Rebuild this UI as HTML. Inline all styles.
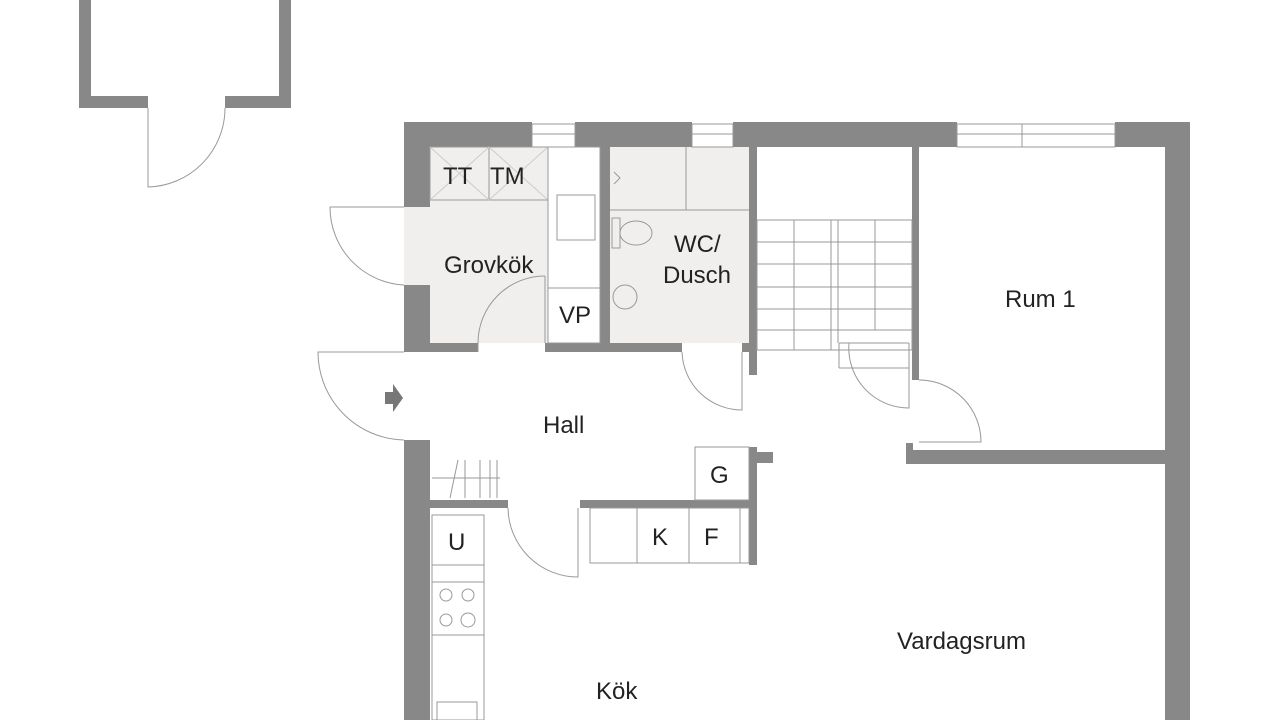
<!DOCTYPE html>
<html><head><meta charset="utf-8"><style>
html,body{margin:0;padding:0;background:#fff;width:1280px;height:720px;overflow:hidden}
svg{display:block}
text{font-family:"Liberation Sans",sans-serif;fill:#222;font-size:24px}
</style></head><body>
<svg width="1280" height="720" viewBox="0 0 1280 720">
<g fill="#f0efed">
<rect x="430" y="147" width="118" height="196"/>
<rect x="404" y="207" width="26" height="78"/>
<rect x="610" y="147" width="139" height="196"/>
</g>
<g fill="#888">
<rect x="79" y="0" width="12" height="108"/>
<rect x="279" y="0" width="12" height="108"/>
<rect x="79" y="96" width="69" height="12"/>
<rect x="225" y="96" width="66" height="12"/>
<rect x="404" y="122" width="128" height="25"/>
<rect x="575" y="122" width="117" height="25"/>
<rect x="733" y="122" width="224" height="25"/>
<rect x="1115" y="122" width="75" height="25"/>
<rect x="1165" y="122" width="25" height="598"/>
<rect x="404" y="122" width="26" height="85"/>
<rect x="404" y="285" width="26" height="67"/>
<rect x="404" y="440" width="26" height="280"/>
<rect x="600" y="147" width="10" height="203"/>
<rect x="749" y="147" width="8" height="228"/>
<rect x="912" y="147" width="7" height="233"/>
<rect x="404" y="343" width="74" height="9"/>
<rect x="545" y="343" width="137" height="9"/>
<rect x="742" y="343" width="15" height="9"/>
<rect x="906" y="450" width="259" height="14"/>
<rect x="906" y="443" width="7" height="21"/>
<rect x="430" y="500" width="78" height="8"/>
<rect x="580" y="500" width="177" height="8"/>
<rect x="749" y="447" width="8" height="118"/>
<rect x="757" y="452" width="16" height="11"/>
</g>
<g fill="none" stroke="#999" stroke-width="1">
<rect x="532" y="124" width="43" height="23"/><line x1="532" y1="134" x2="575" y2="134"/>
<rect x="692" y="124" width="41" height="23"/><line x1="692" y1="134" x2="733" y2="134"/>
<rect x="957" y="124" width="158" height="23"/><line x1="957" y1="134" x2="1115" y2="134"/><line x1="1022" y1="124" x2="1022" y2="147"/>
<path d="M148 108 V187 A79 79 0 0 0 225 108"/>
<path d="M404 207 H330 A78 78 0 0 0 404 285"/>
<path d="M478 352 V343 A67 67 0 0 1 545 276" />
<line x1="545" y1="276" x2="545" y2="343"/>
<path d="M404 352 H318 A88 88 0 0 0 404 440"/>
<path d="M682 352 A60 60 0 0 0 742 410 V352"/>
<path d="M508 508 A70 70 0 0 0 578 577 V508"/>
<path d="M849 343 A60 60 0 0 0 909 408 V343"/>
<path d="M919 380 A62 62 0 0 1 981 442 H919"/>
<rect x="757" y="220" width="155" height="130"/>
<line x1="757" y1="242" x2="912" y2="242"/><line x1="757" y1="264" x2="912" y2="264"/>
<line x1="757" y1="287" x2="912" y2="287"/><line x1="757" y1="309" x2="912" y2="309"/>
<line x1="757" y1="330" x2="912" y2="330"/>
<line x1="794" y1="220" x2="794" y2="350"/><line x1="831" y1="220" x2="831" y2="350"/>
<line x1="838" y1="220" x2="838" y2="343"/><line x1="875" y1="220" x2="875" y2="330"/>
<line x1="839" y1="343" x2="909" y2="343"/><line x1="839" y1="343" x2="839" y2="368"/><line x1="839" y1="368" x2="909" y2="368"/>
<rect x="430" y="147" width="118" height="53"/><line x1="489" y1="147" x2="489" y2="200"/>
<g stroke="#ccc"><line x1="430" y1="147" x2="489" y2="200"/><line x1="489" y1="147" x2="430" y2="200"/>
<line x1="489" y1="147" x2="548" y2="200"/><line x1="548" y1="147" x2="489" y2="200"/></g>
<rect x="548" y="147" width="52" height="196"/>
<rect x="557" y="195" width="38" height="45"/>
<line x1="548" y1="288" x2="600" y2="288"/>
<line x1="610" y1="210" x2="749" y2="210"/><line x1="686" y1="147" x2="686" y2="210"/>
<path d="M614 172 L620 178 L614 184"/>
<rect x="612" y="218" width="8" height="30"/>
<ellipse cx="636" cy="233" rx="16" ry="12"/>
<circle cx="625" cy="297" r="12"/>
<rect x="695" y="447" width="54" height="53"/>
<rect x="590" y="508" width="159" height="55"/>
<line x1="637" y1="508" x2="637" y2="563"/><line x1="689" y1="508" x2="689" y2="563"/><line x1="740" y1="508" x2="740" y2="563"/>
<line x1="432" y1="478" x2="500" y2="478"/>
<line x1="450" y1="498" x2="458" y2="460"/><line x1="465" y1="498" x2="465" y2="460"/><line x1="480" y1="498" x2="480" y2="460"/><line x1="490" y1="498" x2="490" y2="460"/><line x1="497" y1="498" x2="497" y2="460"/>
<rect x="432" y="515" width="52" height="205"/>
<line x1="432" y1="565" x2="484" y2="565"/><line x1="432" y1="582" x2="484" y2="582"/><line x1="432" y1="635" x2="484" y2="635"/>
<circle cx="446" cy="595" r="6"/><circle cx="468" cy="595" r="6"/><circle cx="446" cy="620" r="6"/><circle cx="468" cy="620" r="7"/>
<rect x="437" y="702" width="40" height="18"/>
</g>
<path d="M385 392 h8 v-8 l10 14 l-10 14 v-8 h-8z" fill="#777"/>
<text x="443" y="184">TT</text>
<text x="490" y="184">TM</text>
<text x="444" y="273">Grovkök</text>
<text x="559" y="323">VP</text>
<text x="674" y="252">WC/</text>
<text x="663" y="283">Dusch</text>
<text x="1005" y="307">Rum 1</text>
<text x="543" y="433">Hall</text>
<text x="710" y="483">G</text>
<text x="448" y="550">U</text>
<text x="652" y="545">K</text>
<text x="704" y="545">F</text>
<text x="897" y="649">Vardagsrum</text>
<text x="596" y="699">Kök</text>
</svg>
</body></html>
